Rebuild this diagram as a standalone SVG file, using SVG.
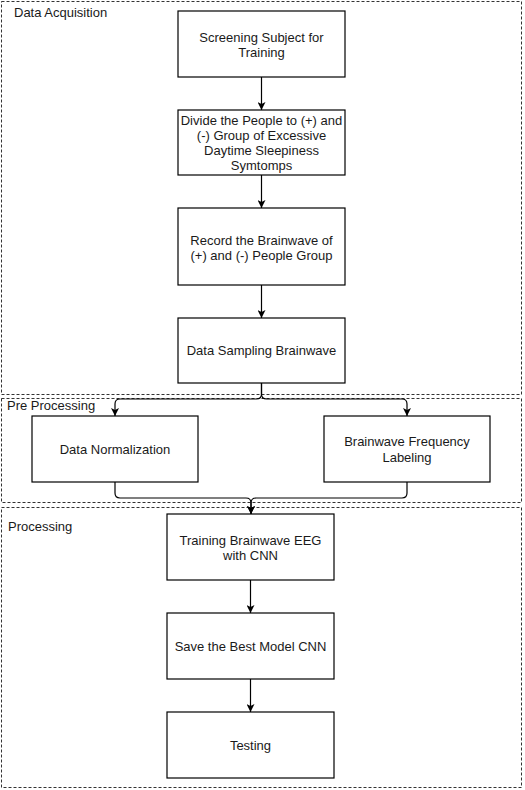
<svg xmlns="http://www.w3.org/2000/svg" width="525" height="790" viewBox="0 0 525 790">
<style>
.bg{fill:#ffffff}
.grp{fill:none;stroke:#333333;stroke-width:1;stroke-dasharray:3 2}
.box{fill:#ffffff;stroke:#000000;stroke-width:1.2}
.t{font-family:"Liberation Sans",Arial,sans-serif;font-size:13px;fill:#1a1a1a;text-anchor:middle}
.gl{font-family:"Liberation Sans",Arial,sans-serif;font-size:13px;fill:#1a1a1a}
.c{fill:none;stroke:#000000;stroke-width:1.2}
</style>
<defs>
<marker id="arr" viewBox="0 0 8 8" refX="8" refY="4" markerWidth="8" markerHeight="8" markerUnits="userSpaceOnUse" orient="auto">
<path d="M0,0 L8,4 L0,8 L2,4 Z" fill="#000000"/>
</marker>
</defs>
<rect class="bg" x="0" y="0" width="525" height="790"/>
<g id="group-data-acquisition">
<rect class="grp" x="1.5" y="1.5" width="520" height="393"/>
<text class="gl" x="14" y="17">Data Acquisition</text>
</g>
<g id="group-pre-processing">
<rect class="grp" x="1.5" y="398.5" width="520" height="104"/>
<text class="gl" x="7" y="410">Pre Processing</text>
</g>
<g id="group-processing">
<rect class="grp" x="1.5" y="507.5" width="520" height="280"/>
<text class="gl" x="8" y="531">Processing</text>
</g>
<g id="connectors">
<path class="c" d="M261.5,77 L261.5,110" marker-end="url(#arr)"/>
<path class="c" d="M261.5,175 L261.5,208" marker-end="url(#arr)"/>
<path class="c" d="M261.5,285 L261.5,318" marker-end="url(#arr)"/>
<path class="c" d="M261.5,383 L261.5,394 Q261.5,399 256.5,399 L120,399 Q115,399 115,404 L115,416" marker-end="url(#arr)"/>
<path class="c" d="M261.5,383 L261.5,394 Q261.5,399 266.5,399 L402,399 Q407,399 407,404 L407,416" marker-end="url(#arr)"/>
<path class="c" d="M115,482 L115,493 Q115,498 120,498 L246,498 Q251,498 251,503 L251,514" marker-end="url(#arr)"/>
<path class="c" d="M407,482 L407,493 Q407,498 402,498 L256,498 Q251,498 251,503 L251,514" marker-end="url(#arr)"/>
<path class="c" d="M250.5,580 L250.5,613" marker-end="url(#arr)"/>
<path class="c" d="M250.5,679 L250.5,712" marker-end="url(#arr)"/>
</g>
<g id="node-screening">
<rect class="box" x="178" y="11" width="167" height="66"/>
<text class="t" x="261.5" y="41.5">Screening Subject for</text>
<text class="t" x="261.5" y="56.5">Training</text>
</g>
<g id="node-divide">
<rect class="box" x="178" y="110" width="167" height="65"/>
<text class="t" x="261.5" y="124.5">Divide the People to (+) and</text>
<text class="t" x="261.5" y="139.5">(-) Group of Excessive</text>
<text class="t" x="261.5" y="154.5">Daytime Sleepiness</text>
<text class="t" x="261.5" y="169.5">Symtomps</text>
</g>
<g id="node-record">
<rect class="box" x="178" y="208" width="167" height="77"/>
<text class="t" x="261.5" y="244.5">Record the Brainwave of</text>
<text class="t" x="261.5" y="259.5">(+) and (-) People Group</text>
</g>
<g id="node-sampling">
<rect class="box" x="178" y="318" width="167" height="65"/>
<text class="t" x="261.5" y="355">Data Sampling Brainwave</text>
</g>
<g id="node-normalization">
<rect class="box" x="32" y="416" width="166" height="66"/>
<text class="t" x="115" y="454">Data Normalization</text>
</g>
<g id="node-labeling">
<rect class="box" x="324" y="416" width="166" height="66"/>
<text class="t" x="407" y="446">Brainwave Frequency</text>
<text class="t" x="407" y="462">Labeling</text>
</g>
<g id="node-training">
<rect class="box" x="167" y="514" width="167" height="66"/>
<text class="t" x="250.5" y="544.5">Training Brainwave EEG</text>
<text class="t" x="250.5" y="559.5">with CNN</text>
</g>
<g id="node-save">
<rect class="box" x="167" y="613" width="167" height="66"/>
<text class="t" x="250.5" y="651">Save the Best Model CNN</text>
</g>
<g id="node-testing">
<rect class="box" x="167" y="712" width="167" height="66"/>
<text class="t" x="250.5" y="750">Testing</text>
</g>
</svg>
